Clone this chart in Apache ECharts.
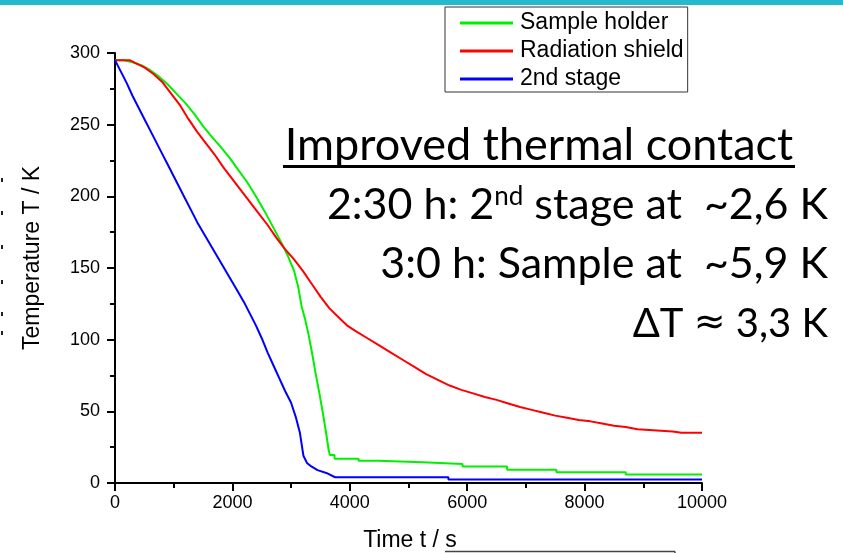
<!DOCTYPE html>
<html>
<head>
<meta charset="utf-8">
<script src="https://cdn.jsdelivr.net/npm/echarts@6/dist/echarts.min.js"></script>
<style>
html,body{margin:0;padding:0;background:#fff;}
#chart{width:843px;height:553px;}
</style>
</head>
<body>
<div id="chart"></div>
<script>
// ---- data ----
const seriesNames = ['Sample holder', 'Radiation shield', '2nd stage'];

const sampleTime = [0,150,300,450,600,750,900,1050,1200,1350,1500,1650,1800,1950,2100,2250,2400,2550,2700,2850,2950,3050,3120,3180,3240,3300,3360,3420,3480,3540,3600,3640,3660,3740,3740,4150,4150,4480,4480,5240,5240,5920,5920,6680,6680,7520,7520,8700,8700,10000];
const sampleTemp = [295,295,293.5,291.5,288,283.5,278,271.5,265,257.5,249,241.5,234.5,227,218.5,210,200,189.5,178,166.5,158,148,137,123,114,103,90,76,63,49,34,23,19.5,19.5,17,17,15.6,15.6,14.5,14.5,13.2,13.2,11.5,11.5,9.3,9.3,7.5,7.5,5.9,5.9];

const shieldTime = [0,250,350,500,650,800,950,1100,1250,1400,1550,1700,1850,2000,2150,2300,2450,2600,2750,2900,3050,3200,3350,3500,3650,3800,3950,4100,4300,4500,4700,4900,5100,5300,5500,5700,5900,6100,6300,6500,6700,6900,7100,7300,7500,7700,7900,8100,8300,8500,8700,8900,9100,9300,9500,9650,10000];
const shieldTemp = [295,295,293,290,285.5,280,272,264,254,245,237,229,220,212,204,196,188,180,171,163,156,148,139,130,122,116,110,106,101,96,91,86,81,76,72,68,65,62.5,60,58,55.5,53,51,49,47,45.5,44,43,41.5,40,39,37.5,37,36.5,36,35,35];

const stageTime = [0,100,200,300,400,500,600,700,800,900,1000,1100,1200,1300,1400,1500,1600,1700,1800,1900,2000,2100,2200,2300,2400,2500,2600,2700,2800,2900,3000,3080,3150,3210,3270,3330,3450,3600,3750,5680,5680,10000];
const stageTemp = [295,287,279,270,262,254,246,238,230,222,214,206,198,190,182,175,168,161,154,147,140,133,126,118,110,101,91,82,73,64,56,46,35,19,14,12,9,7,4,4,2.5,2.5];

const xTicks = {min: 0, max: 10000, interval: 2000};
const yTicks = {min: 0, max: 300, interval: 50};

const xName = 'Time t / s';
const yName = 'Temperature T / K';
const notes = {
  title: 'Improved thermal contact',
  line2: ['2:30 h: 2', 'nd', ' stage at  ~2,6 K'],
  line3: '3:0 h: Sample at  ~5,9 K',
  line4: ['\u0394T ', '\u2248', ' 3,3 K']
};
const edgeMarks = [178, 211, 245, 280, 312, 331];

function zip(a, b) { return a.map((v, i) => [v, b[i]]); }

const chart = echarts.init(document.getElementById('chart'), null, {renderer: 'canvas'});
const sans = 'Liberation Sans, Arial, sans-serif';
const axisFont = {fontFamily: sans, fontSize: 18, color: '#000'};
const noteFont = 'Lato, sans-serif';

const graphics = [
  {type: 'rect', shape: {x: 0, y: 0, width: 843, height: 5}, style: {fill: '#26B8CE'}, silent: true},
  {type: 'text', x: 33, y: 258, rotation: Math.PI / 2,
   style: {text: yName, fontFamily: sans, fontSize: 23, fill: '#000', align: 'center', verticalAlign: 'middle'}},
  {type: 'text', x: 410, y: 541,
   style: {text: xName, fontFamily: sans, fontSize: 23, fill: '#000', align: 'center', verticalAlign: 'middle'}},
  {type: 'line', shape: {x1: 445, y1: 551.5, x2: 675, y2: 551.5}, style: {stroke: '#444', lineWidth: 1.5}},
  {type: 'line', shape: {x1: 675, y1: 551.5, x2: 675, y2: 553}, style: {stroke: '#444', lineWidth: 1.5}},
  {type: 'text', x: 539, y: 145,
   style: {text: notes.title, fontFamily: noteFont, fontSize: 45, fill: '#000', align: 'center', verticalAlign: 'middle'}},
  {type: 'line', shape: {x1: 283, y1: 166.5, x2: 795, y2: 166.5}, style: {stroke: '#000', lineWidth: 3}},
  {type: 'text', x: 828, y: 205,
   style: {text: '{n|' + notes.line2[0] + '}{s|' + notes.line2[1] + '}{n|' + notes.line2[2] + '}',
     align: 'right', verticalAlign: 'middle',
     rich: {
       n: {fontFamily: noteFont, fontSize: 43, color: '#000', verticalAlign: 'bottom'},
       s: {fontFamily: noteFont, fontSize: 26, color: '#000', verticalAlign: 'top'}
     }}},
  {type: 'text', x: 828, y: 264,
   style: {text: notes.line3, fontFamily: noteFont, fontSize: 43, fill: '#000', align: 'right', verticalAlign: 'middle'}},
  {type: 'text', x: 828, y: 324,
   style: {text: '{n|' + notes.line4[0] + '}{a|' + notes.line4[1] + '}{n|' + notes.line4[2] + '}',
     align: 'right', verticalAlign: 'middle',
     rich: {
       n: {fontFamily: noteFont, fontSize: 40, color: '#000'},
       a: {fontFamily: 'DejaVu Sans, sans-serif', fontSize: 38, color: '#000'}
     }}}
];
edgeMarks.forEach(y => graphics.push({type: 'rect', shape: {x: 1, y: y, width: 2, height: 4}, style: {fill: '#222'}, silent: true}));

const option = {
  animation: false,
  backgroundColor: '#fff',
  grid: {left: 115, right: 141, top: 53, bottom: 70, containLabel: false},
  legend: {
    data: seriesNames,
    orient: 'vertical',
    left: 445, top: 7,
    icon: 'rect', itemWidth: 53, itemHeight: 3,
    itemGap: 2,
    padding: [3, 4, 0, 15],
    borderColor: '#333', borderWidth: 1,
    textStyle: {fontFamily: sans, fontSize: 23, color: '#000', lineHeight: 26, padding: [0,0,0,2]}
  },
  xAxis: {
    type: 'value', min: xTicks.min, max: xTicks.max, interval: xTicks.interval,
    axisLine: {show: true, onZero: false, lineStyle: {color: '#000', width: 2}},
    axisTick: {show: true, inside: false, length: 8, lineStyle: {color: '#000', width: 2}},
    minorTick: {show: true, splitNumber: 2, length: 5, lineStyle: {color: '#000', width: 2}},
    splitLine: {show: false},
    axisLabel: Object.assign({margin: 11, formatter: v => String(v)}, axisFont)
  },
  yAxis: {
    type: 'value', min: yTicks.min, max: yTicks.max, interval: yTicks.interval,
    axisLine: {show: true, onZero: false, lineStyle: {color: '#000', width: 2}},
    axisTick: {show: true, inside: false, length: 8, lineStyle: {color: '#000', width: 2}},
    minorTick: {show: true, splitNumber: 2, length: 5, lineStyle: {color: '#000', width: 2}},
    splitLine: {show: false},
    axisLabel: Object.assign({margin: 15, formatter: v => String(v)}, axisFont)
  },
  series: [
    {name: seriesNames[0], type: 'line', showSymbol: false, data: zip(sampleTime, sampleTemp),
     itemStyle: {color: '#00F000'}, lineStyle: {color: '#00F000', width: 2}},
    {name: seriesNames[1], type: 'line', showSymbol: false, data: zip(shieldTime, shieldTemp),
     itemStyle: {color: '#FF0000'}, lineStyle: {color: '#FF0000', width: 2}},
    {name: seriesNames[2], type: 'line', showSymbol: false, data: zip(stageTime, stageTemp),
     itemStyle: {color: '#0000FF'}, lineStyle: {color: '#0000FF', width: 2}}
  ],
  graphic: graphics
};
chart.setOption(option);
</script>
</body>
</html>
